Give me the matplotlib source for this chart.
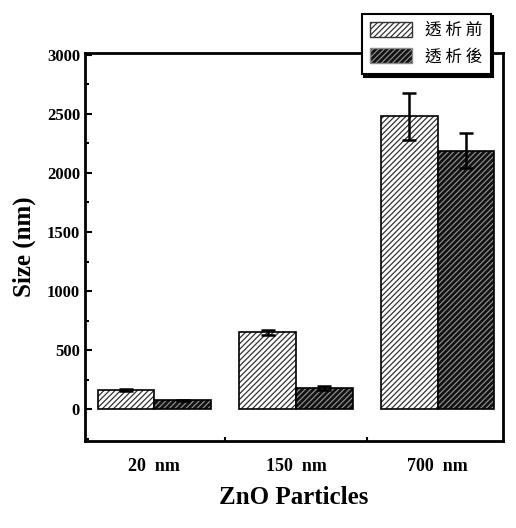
import numpy as np
import matplotlib
matplotlib.use('Agg')
import matplotlib.pyplot as plt
from matplotlib.ticker import MultipleLocator, FixedLocator

#Data#
groups = ['20  nm', '150  nm', '700  nm']
before = [165, 650, 2480]
before_err = [8, 22, 200]
after = [75, 180, 2190]
after_err = [5, 15, 145]
labels = ['透 析 前', '透 析 後']

plt.rcParams['font.family'] = ['Liberation Serif', 'DejaVu Serif']
plt.rcParams['font.weight'] = 'bold'
plt.rcParams['hatch.linewidth'] = 0.9

fig = plt.figure(figsize=(5.16, 5.28), dpi=100)
ax = fig.add_axes([0.1647, 0.1648, 0.81, 0.735])

x = np.arange(1, len(groups) + 1)
w = 0.4

#Before dialysis: white with black hatch#
ax.bar(x - w/2, before, w, facecolor='white', edgecolor='#333333', hatch='//////', lw=0)
ax.bar(x - w/2, before, w, fill=False, edgecolor='black', lw=1.2)
ax.errorbar(x - w/2, before, yerr=before_err, fmt='none', ecolor='black', elinewidth=1.8, capsize=5, capthick=1.8)

#After dialysis: black with grey hatch#
ax.bar(x + w/2, after, w, facecolor='#111111', edgecolor='#8a8a8a', hatch='//////', lw=0)
ax.bar(x + w/2, after, w, fill=False, edgecolor='black', lw=1.2)
ax.errorbar(x + w/2, after, yerr=after_err, fmt='none', ecolor='black', elinewidth=1.8, capsize=5, capthick=1.8)

ax.set_xlim(0.51, 3.46)
ax.set_ylim(-270, 3017)
ax.yaxis.set_major_locator(MultipleLocator(500))
ax.yaxis.set_minor_locator(MultipleLocator(250))
ax.set_xticks(x)
ax.set_xticklabels(groups, fontsize=13, fontweight='bold')
ax.xaxis.set_minor_locator(FixedLocator([1.5, 2.5]))
ax.tick_params(axis='x', which='major', length=0, pad=12)
ax.tick_params(axis='x', which='minor', length=3, direction='in', width=1.5)
ax.tick_params(axis='y', which='both', direction='in', width=1.5, labelsize=12)
ax.tick_params(axis='y', which='major', length=5)
ax.tick_params(axis='y', which='minor', length=3)
for lab in ax.get_yticklabels():
    lab.set_fontweight('bold')
for sp in ax.spines.values():
    sp.set_linewidth(2)

ax.set_xlabel('ZnO Particles', fontsize=18, fontweight='bold', labelpad=8)
ax.set_ylabel('Size (nm)', fontsize=18, fontweight='bold', labelpad=8)

#Legend#
h1 = plt.Rectangle((0, 0), 1, 1, facecolor='white', edgecolor='#333333', hatch='//////', lw=1)
h2 = plt.Rectangle((0, 0), 1, 1, facecolor='#111111', edgecolor='#8a8a8a', hatch='//////', lw=1)
leg = fig.legend([h1, h2], labels, loc='upper right', bbox_to_anchor=(0.967, 0.99),
                 prop={'family': ['Noto Sans CJK TC'], 'size': 12, 'weight': 'normal'},
                 frameon=True, fancybox=False, shadow={'color': 'black', 'alpha': 1},
                 edgecolor='black', handlelength=2.5, handleheight=1.0,
                 borderpad=0.5, labelspacing=0.55, handletextpad=0.8)
leg.get_frame().set_linewidth(1.5)

fig.savefig('out.png', dpi=100)
